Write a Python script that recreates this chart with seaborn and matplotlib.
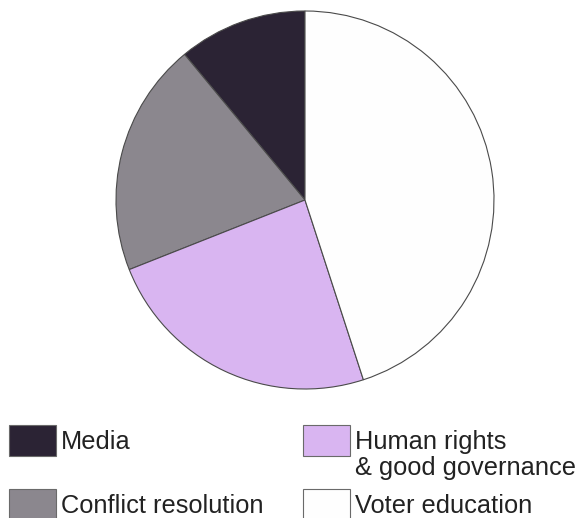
import matplotlib
matplotlib.use("Agg")
import matplotlib.pyplot as plt
import seaborn as sns
from matplotlib.patches import Rectangle

# Data (share of funding, %)
categories = ["Media", "Conflict resolution", "Human rights\n& good governance", "Voter education"]
shares = [11, 20, 24, 45]
colors = ["#2b2334", "#8b878e", "#d9b5f1", "#fefefe"]

sns.set_theme(style="white")
plt.rcParams['font.family'] = ['Liberation Sans', 'DejaVu Sans']

W, H = 582, 518
fig = plt.figure(figsize=(W / 100, H / 100), dpi=100)
fig.patch.set_facecolor("white")

cx, cy, r = 305, 200, 189
ax = fig.add_axes([(cx - r) / W, (H - cy - r) / H, 2 * r / W, 2 * r / H])
wedges, _ = ax.pie(shares, colors=colors, startangle=90, counterclock=True, radius=1,
                   wedgeprops=dict(edgecolor="#4a4a4a", linewidth=0.8))
for w in wedges:
    w.set_clip_on(False)
ax.set_xlim(-1, 1)
ax.set_ylim(-1, 1)
ax.set_aspect('auto')
ax.axis('off')

# Legend (two columns, filled column-first)
for i, (lab, col) in enumerate(zip(categories, colors)):
    c, rr = divmod(i, 2)
    x0 = 9 + c * 294
    y0 = 425 + rr * 64
    fig.patches.append(Rectangle((x0 / W, 1 - (y0 + 31) / H), 47 / W, 31 / H,
                                 transform=fig.transFigure, facecolor=col,
                                 edgecolor="#6a6a6a", linewidth=0.8))
    fig.text((x0 + 52) / W, 1 - (y0 + 5) / H, lab, va='top', ha='left',
             fontsize=18.3, color="#222222", linespacing=1.12)

fig.savefig("out.png", dpi=100)
